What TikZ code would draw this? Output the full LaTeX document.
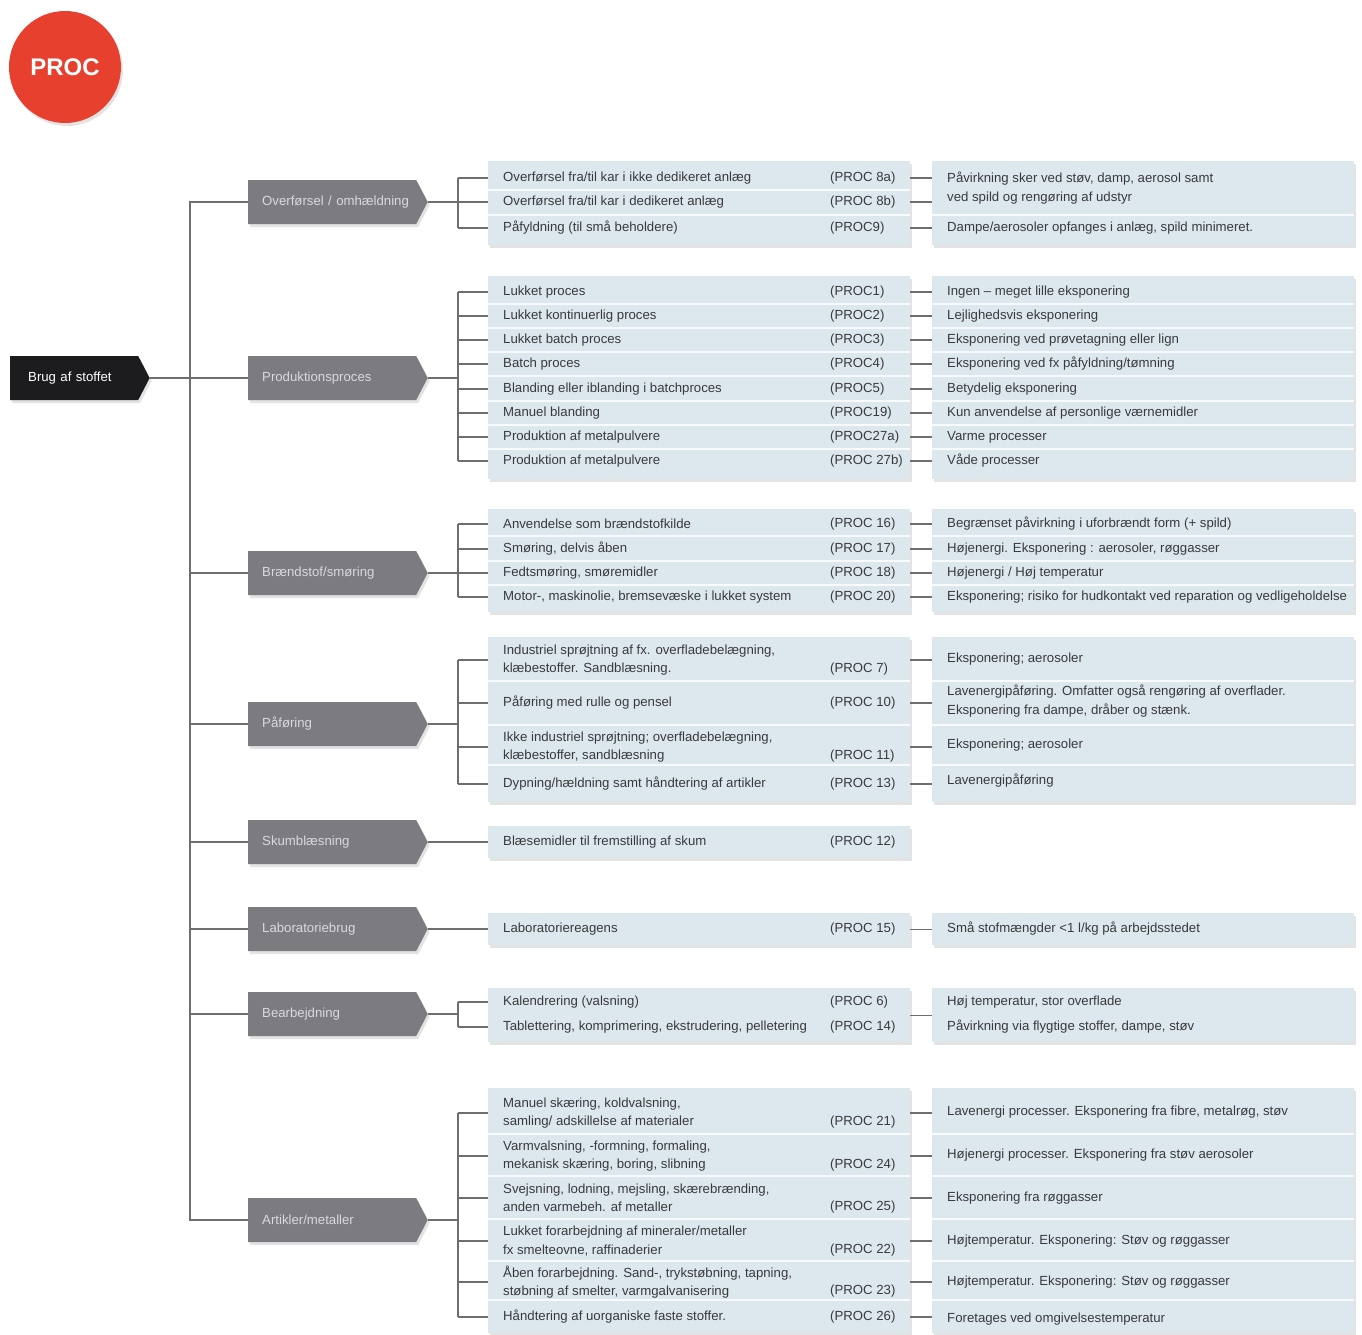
\documentclass[tikz,border=0pt]{standalone}
\usepackage{fontspec}
\setmainfont{Liberation Sans}
\usetikzlibrary{calc,shapes.symbols,shadows}

\definecolor{procred}{HTML}{E8402F}
\definecolor{rootblack}{HTML}{1C1C1E}
\definecolor{catgray}{HTML}{7B7B80}
\definecolor{cattext}{HTML}{D9D9DE}
\definecolor{boxblue}{HTML}{DCE8EE}
\definecolor{linkgray}{HTML}{6E6E6E}
\definecolor{rowink}{HTML}{3A3A3C}

\begin{document}
\begin{tikzpicture}[x=1pt,y=-1pt,
	link/.style={draw=linkgray,line width=1.4pt},
	sep/.style={draw=white,line width=1.2pt,opacity=.8},
	softshadow/.style={drop shadow={shadow xshift=2pt,shadow yshift=-3pt,opacity=.22}},
	catbox/.style={signal,signal to=east,signal pointer angle=125,fill=catgray,text=cattext,
		minimum height=44pt,text width=168pt,inner xsep=0pt,align=left,anchor=west,
		execute at begin node={\hspace*{14pt}},font=\fontsize{13.2}{16}\selectfont,softshadow},
	rootbox/.style={catbox,fill=rootblack,text=white,text width=128pt,
		execute at begin node={\hspace*{4pt}}},
	boxfill/.style={fill=boxblue,anchor=north west,minimum width=422pt,inner sep=0pt,softshadow},
	rowtext/.style={anchor=west,inner sep=0pt,align=left,text=rowink,font=\fontsize{13.2}{18.5}\selectfont}]

			\newcommand{\procrow}[4]{
				\node[rowtext] (#1) at (503,#2) {#3};
				\node[rowtext] (#1c) at (830,#2) {#4};
			}
			\newcommand{\procrowii}[5]{
				\node[rowtext] (#1) at (503,#2) {#3\\#4};
				\node[rowtext] (#1c) at (830,#2+9) {#5};
			}
			\newcommand{\exprow}[3]{
				\node[rowtext] (#1) at (947,#2) {#3};
			}

			\fill[white] (0,0) rectangle (1362,1334);
			\useasboundingbox (0,0) rectangle (1362,1334);

			\node [circle,fill=procred,minimum size=112pt,text=white,softshadow,
				font=\bfseries\fontsize{24}{28}\selectfont] (proc) at (65,67) {PROC};

			\node [rootbox] (root) at (10,378) {Brug af stoffet};
			\node [catbox] (g1) at (248,202) {Overførsel / omhældning};
			\node [catbox] (g2) at (248,378) {Produktionsproces};
			\node [catbox] (g3) at (248,573) {Brændstof/smøring};
			\node [catbox] (g4) at (248,724) {Påføring};
			\node [catbox] (g5) at (248,842) {Skumblæsning};
			\node [catbox] (g6) at (248,929) {Laboratoriebrug};
			\node [catbox] (g7) at (248,1014) {Bearbejdning};
			\node [catbox] (g8) at (248,1220) {Artikler/metaller};

			\node [boxfill,minimum height=84pt] (mb1) at (488,161) {};
			\node [boxfill,minimum height=84pt] (rb1) at (932,161) {};
			\node [boxfill,minimum height=203pt] (mb2) at (488,276) {};
			\node [boxfill,minimum height=203pt] (rb2) at (932,276) {};
			\node [boxfill,minimum height=103pt] (mb3) at (488,509) {};
			\node [boxfill,minimum height=103pt] (rb3) at (932,509) {};
			\node [boxfill,minimum height=165pt] (mb4) at (488,637) {};
			\node [boxfill,minimum height=165pt] (rb4) at (932,637) {};
			\node [boxfill,minimum height=32pt] (mb5) at (488,826) {};
			\node [boxfill,minimum height=32pt] (mb6) at (488,913) {};
			\node [boxfill,minimum height=32pt] (rb6) at (932,913) {};
			\node [boxfill,minimum height=54pt] (mb7) at (488,988) {};
			\node [boxfill,minimum height=54pt] (rb7) at (932,988) {};
			\node [boxfill,minimum height=245pt] (mb8) at (488,1088) {};
			\node [boxfill,minimum height=245pt] (rb8) at (932,1088) {};

			\foreach \y in {190,215} \draw [sep] (488,\y) -- (910,\y);
			\draw [sep] (932,215) -- (1354,215);
			\foreach \y in {304,328,352,376,401,425,449,536,561,585,681,725,765,1134,1176,1219,1261,1300}
				\draw [sep] (488,\y) -- (910,\y) (932,\y) -- (1354,\y);

			\procrow{r1a}{178}{Overførsel fra/til kar i ikke dedikeret anlæg}{(PROC 8a)}
			\procrow{r1b}{202}{Overførsel fra/til kar i dedikeret anlæg}{(PROC 8b)}
			\procrow{r1c}{228}{Påfyldning (til små beholdere)}{(PROC9)}
			\exprow{e1a}{188}{Påvirkning sker ved støv, damp, aerosol samt\\ved spild og rengøring af udstyr}
			\exprow{e1b}{228}{Dampe/aerosoler opfanges i anlæg, spild minimeret.}

			\procrow{r2a}{292}{Lukket proces}{(PROC1)}
			\procrow{r2b}{316}{Lukket kontinuerlig proces}{(PROC2)}
			\procrow{r2c}{340}{Lukket batch proces}{(PROC3)}
			\procrow{r2d}{364}{Batch proces}{(PROC4)}
			\procrow{r2e}{389}{Blanding eller iblanding i batchproces}{(PROC5)}
			\procrow{r2f}{413}{Manuel blanding}{(PROC19)}
			\procrow{r2g}{437}{Produktion af metalpulvere}{(PROC27a)}
			\procrow{r2h}{461}{Produktion af metalpulvere}{(PROC 27b)}
			\exprow{e2a}{292}{Ingen – meget lille eksponering}
			\exprow{e2b}{316}{Lejlighedsvis eksponering}
			\exprow{e2c}{340}{Eksponering ved prøvetagning eller lign}
			\exprow{e2d}{364}{Eksponering ved fx påfyldning/tømning}
			\exprow{e2e}{389}{Betydelig eksponering}
			\exprow{e2f}{413}{Kun anvendelse af personlige værnemidler}
			\exprow{e2g}{437}{Varme processer}
			\exprow{e2h}{461}{Våde processer}

			\procrow{r3a}{524}{Anvendelse som brændstofkilde}{(PROC 16)}
			\procrow{r3b}{549}{Smøring, delvis åben}{(PROC 17)}
			\procrow{r3c}{573}{Fedtsmøring, smøremidler}{(PROC 18)}
			\procrow{r3d}{597}{Motor-, maskinolie, bremsevæske i lukket system}{(PROC 20)}
			\exprow{e3a}{524}{Begrænset påvirkning i uforbrændt form (+ spild)}
			\exprow{e3b}{549}{Højenergi. Eksponering : aerosoler, røggasser}
			\exprow{e3c}{573}{Højenergi / Høj temperatur}
			\exprow{e3d}{597}{Eksponering; risiko for hudkontakt ved reparation og vedligeholdelse}

			\procrowii{r4a}{660}{Industriel sprøjtning af fx. overfladebelægning,}{klæbestoffer. Sandblæsning.}{(PROC 7)}
			\procrow{r4b}{703}{Påføring med rulle og pensel}{(PROC 10)}
			\procrowii{r4c}{747}{Ikke industriel sprøjtning; overfladebelægning,}{klæbestoffer, sandblæsning}{(PROC 11)}
			\procrow{r4d}{784}{Dypning/hældning samt håndtering af artikler}{(PROC 13)}
			\exprow{e4a}{659}{Eksponering; aerosoler}
			\exprow{e4b}{701}{Lavenergipåføring. Omfatter også rengøring af overflader.\\Eksponering fra dampe, dråber og stænk.}
			\exprow{e4c}{745}{Eksponering; aerosoler}
			\exprow{e4d}{781}{Lavenergipåføring}

			\procrow{r5a}{842}{Blæsemidler til fremstilling af skum}{(PROC 12)}

			\procrow{r6a}{929}{Laboratoriereagens}{(PROC 15)}
			\exprow{e6a}{929}{Små stofmængder <1 l/kg på arbejdsstedet}

			\procrow{r7a}{1002}{Kalendrering (valsning)}{(PROC 6)}
			\procrow{r7b}{1027}{Tablettering, komprimering, ekstrudering, pelletering}{(PROC 14)}
			\exprow{e7a}{1002}{Høj temperatur, stor overflade}
			\exprow{e7b}{1027}{Påvirkning via flygtige stoffer, dampe, støv}

			\procrowii{r8a}{1113}{Manuel skæring, koldvalsning,}{samling/ adskillelse af materialer}{(PROC 21)}
			\procrowii{r8b}{1156}{Varmvalsning, -formning, formaling,}{mekanisk skæring, boring, slibning}{(PROC 24)}
			\procrowii{r8c}{1198}{Svejsning, lodning, mejsling, skærebrænding,}{anden varmebeh. af metaller}{(PROC 25)}
			\procrowii{r8d}{1241}{Lukket forarbejdning af mineraler/metaller}{fx smelteovne, raffinaderier}{(PROC 22)}
			\procrowii{r8e}{1282}{Åben forarbejdning. Sand-, trykstøbning, tapning,}{støbning af smelter, varmgalvanisering}{(PROC 23)}
			\procrow{r8f}{1317}{Håndtering af uorganiske faste stoffer.}{(PROC 26)}
			\exprow{e8a}{1112}{Lavenergi processer. Eksponering fra fibre, metalrøg, støv}
			\exprow{e8b}{1155}{Højenergi processer. Eksponering fra støv aerosoler}
			\exprow{e8c}{1198}{Eksponering fra røggasser}
			\exprow{e8d}{1241}{Højtemperatur. Eksponering: Støv og røggasser}
			\exprow{e8e}{1282}{Højtemperatur. Eksponering: Støv og røggasser}
			\exprow{e8f}{1319}{Foretages ved omgivelsestemperatur}

			\coordinate (tx) at (190,0);
			\draw [link] (root.east) -- (g2.west);
			\draw [link] (g1.west) -- (g1.west -| tx) -- (g8.west -| tx) -- (g8.west);
			\foreach \g in {g3,g4,g5,g6,g7}
				\draw [link] (\g.west -| tx) -- (\g.west);

			\coordinate (b1) at ($(g1.east)+(30,0)$);
			\draw [link] (g1.east) -- (b1) (b1 |- r1a) -- (b1 |- r1c);
			\foreach \r in {r1a,r1b,r1c}
				\draw [link] (b1 |- \r) -- (\r -| mb1.west) (\r -| mb1.east) -- (\r -| rb1.west);

			\coordinate (b2) at ($(g2.east)+(30,0)$);
			\draw [link] (g2.east) -- (b2) (b2 |- r2a) -- (b2 |- r2h);
			\foreach \r in {r2a,r2b,r2c,r2d,r2e,r2f,r2g,r2h}
				\draw [link] (b2 |- \r) -- (\r -| mb2.west) (\r -| mb2.east) -- (\r -| rb2.west);

			\coordinate (b3) at ($(g3.east)+(30,0)$);
			\draw [link] (g3.east) -- (b3) (b3 |- r3a) -- (b3 |- r3d);
			\foreach \r in {r3a,r3b,r3c,r3d}
				\draw [link] (b3 |- \r) -- (\r -| mb3.west) (\r -| mb3.east) -- (\r -| rb3.west);

			\coordinate (b4) at ($(g4.east)+(30,0)$);
			\draw [link] (g4.east) -- (b4) (b4 |- r4a) -- (b4 |- r4d);
			\foreach \r in {r4a,r4b,r4c,r4d}
				\draw [link] (b4 |- \r) -- (\r -| mb4.west) (\r -| mb4.east) -- (\r -| rb4.west);

			\draw [link] (g5.east) -- (g5.east -| mb5.west);

			\draw [link] (g6.east) -- (g6.east -| mb6.west) (mb6.east) -- (rb6.west);

			\coordinate (b7) at ($(g7.east)+(30,0)$);
			\draw [link] (g7.east) -- (b7) (b7 |- r7a) -- (b7 |- r7b);
			\foreach \r in {r7a,r7b}
				\draw [link] (b7 |- \r) -- (\r -| mb7.west);
			\draw [link] (mb7.east) -- (rb7.west);

			\coordinate (b8) at ($(g8.east)+(30,0)$);
			\draw [link] (g8.east) -- (b8) (b8 |- r8a) -- (b8 |- r8f);
			\foreach \r in {r8a,r8b,r8c,r8d,r8e,r8f}
				\draw [link] (b8 |- \r) -- (\r -| mb8.west) (\r -| mb8.east) -- (\r -| rb8.west);
		\end{tikzpicture}
\end{document}
